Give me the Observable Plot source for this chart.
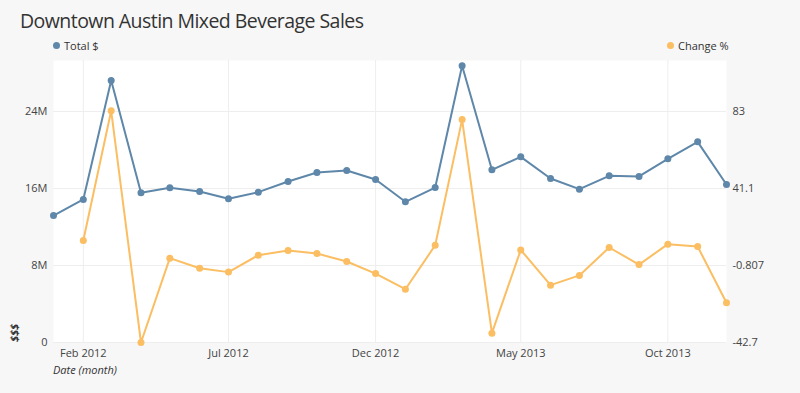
<!DOCTYPE html>
<html>
<head>
<meta charset="utf-8">
<script src="https://cdn.jsdelivr.net/npm/d3@7"></script>
<script src="https://cdn.jsdelivr.net/npm/@observablehq/plot@0.6"></script>
<style>
  html, body { margin: 0; padding: 0; background: #f7f7f7; }
  #wrap { position: relative; width: 800px; height: 393px; font-family: "Open Sans", sans-serif; color: #444; }
  #title { position: absolute; left: 20px; top: 7px; font-size: 19.5px; letter-spacing: -0.55px; color: #333; white-space: nowrap; }
  .leg { position: absolute; top: 38px; font-size: 11px; color: #333; white-space: nowrap; display: flex; align-items: center; }
  .leg .dot { width: 7px; height: 7px; border-radius: 50%; display: inline-block; margin-right: 4px; }
  #ylab { position: absolute; left: 13px; top: 333px; transform: translate(-50%, -50%) rotate(-90deg); font-size: 11px; font-weight: bold; font-style: italic; color: #333; }
  #xlab { position: absolute; left: 53px; top: 362px; font-size: 11px; font-style: italic; color: #333; white-space: nowrap; }
  #chart { position: absolute; left: 0; top: 0; }
</style>
</head>
<body>
<div id="wrap">
  <div id="chart"></div>
  <div id="title"></div>
  <div class="leg" id="leg1" style="left:53px"></div>
  <div class="leg" id="leg2" style="left:667px"></div>
  <div id="ylab"></div>
  <div id="xlab"></div>
</div>
<script>
// ---- Data ----
const titleText = "Downtown Austin Mixed Beverage Sales";
const seriesNames = ["Total $", "Change %"];
const seriesColors = ["#5e87a9", "#fbbe62"];
const yLabel = "$$$";
const xLabel = "Date (month)";

const months = [
  "2012-01","2012-02","2012-03","2012-04","2012-05","2012-06",
  "2012-07","2012-08","2012-09","2012-10","2012-11","2012-12",
  "2013-01","2013-02","2013-03","2013-04","2013-05","2013-06",
  "2013-07","2013-08","2013-09","2013-10","2013-11","2013-12"
];
// Total $ in millions
const totalMillions = [
  13.19, 14.86, 27.22, 15.55, 16.07, 15.69,
  14.93, 15.62, 16.73, 17.66, 17.87, 16.94,
  14.62, 16.10, 28.75, 17.94, 19.29, 17.04,
  15.93, 17.32, 17.25, 19.08, 20.85, 16.42
];
// Change % month over month
const changePct = [
  null, 12.8, 83.4, -42.7, 3.2, -2.3,
  -4.4, 4.8, 7.4, 5.7, 1.4, -5.2,
  -13.7, 10.2, 78.6, -37.6, 7.7, -11.5,
  -6.2, 9.0, -0.3, 10.8, 9.5, -21.1
];

const leftTicks = [0, 8e6, 16e6, 24e6];
const leftTickLabels = ["0", "8M", "16M", "24M"];
const rightTickValues = [-42.7, -0.807, 41.1, 83];
const rightTickLabels = ["-42.7", "-0.807", "41.1", "83"];
const xTickMonths = ["2012-02", "2012-07", "2012-12", "2013-05", "2013-10"];
const yMax = 29.3e6;

// ---- Build ----
const parse = d3.utcParse("%Y-%m");
const rMin = rightTickValues[0], rMax = rightTickValues[rightTickValues.length - 1];
const lMin = leftTicks[0], lMax = leftTicks[leftTicks.length - 1];
const rightToLeft = v => lMin + (v - rMin) / (rMax - rMin) * (lMax - lMin);

const rows = months.map((m, i) => ({
  date: parse(m),
  total: totalMillions[i] * 1e6,
  change: changePct[i],
  changeY: changePct[i] == null ? null : rightToLeft(changePct[i])
}));
const changeRows = rows.filter(d => d.change != null);
const xTicks = xTickMonths.map(parse);

const chart = Plot.plot({
  width: 800,
  height: 393,
  marginLeft: 53,
  marginRight: 74,
  marginTop: 60,
  marginBottom: 51,
  style: { background: "transparent", fontFamily: "Open Sans, sans-serif", fontSize: "11px", color: "#444" },
  x: { type: "utc", domain: [rows[0].date, rows[rows.length - 1].date] },
  y: { domain: [0, yMax] },
  marks: [
    Plot.frame({ fill: "white", stroke: null }),
    Plot.gridY(leftTicks, { stroke: "#eeeeee", strokeOpacity: 1, strokeWidth: 1 }),
    Plot.gridX(xTicks, { stroke: "#eeeeee", strokeOpacity: 1, strokeWidth: 1 }),
    Plot.axisY(leftTicks, { anchor: "left", tickSize: 0, tickPadding: 6, label: null,
      tickFormat: d => leftTickLabels[leftTicks.indexOf(d)] }),
    Plot.axisY(leftTicks, { anchor: "right", tickSize: 0, tickPadding: 6, label: null,
      tickFormat: d => rightTickLabels[leftTicks.indexOf(d)] }),
    Plot.axisX(xTicks, { tickSize: 0, tickPadding: 7, label: null, tickFormat: d3.utcFormat("%b %Y") }),
    Plot.line(rows, { x: "date", y: "total", stroke: seriesColors[0], strokeWidth: 2 }),
    Plot.dot(rows, { x: "date", y: "total", fill: seriesColors[0], r: 3.5 }),
    Plot.line(changeRows, { x: "date", y: "changeY", stroke: seriesColors[1], strokeWidth: 2 }),
    Plot.dot(changeRows, { x: "date", y: "changeY", fill: seriesColors[1], r: 3.5 })
  ]
});
document.getElementById("chart").appendChild(chart);

document.getElementById("title").textContent = titleText;
document.getElementById("ylab").textContent = yLabel;
document.getElementById("xlab").textContent = xLabel;
[["leg1", 0], ["leg2", 1]].forEach(([id, i]) => {
  const el = document.getElementById(id);
  const dot = document.createElement("span");
  dot.className = "dot";
  dot.style.background = seriesColors[i];
  el.appendChild(dot);
  el.appendChild(document.createTextNode(seriesNames[i]));
});
</script>
</body>
</html>
